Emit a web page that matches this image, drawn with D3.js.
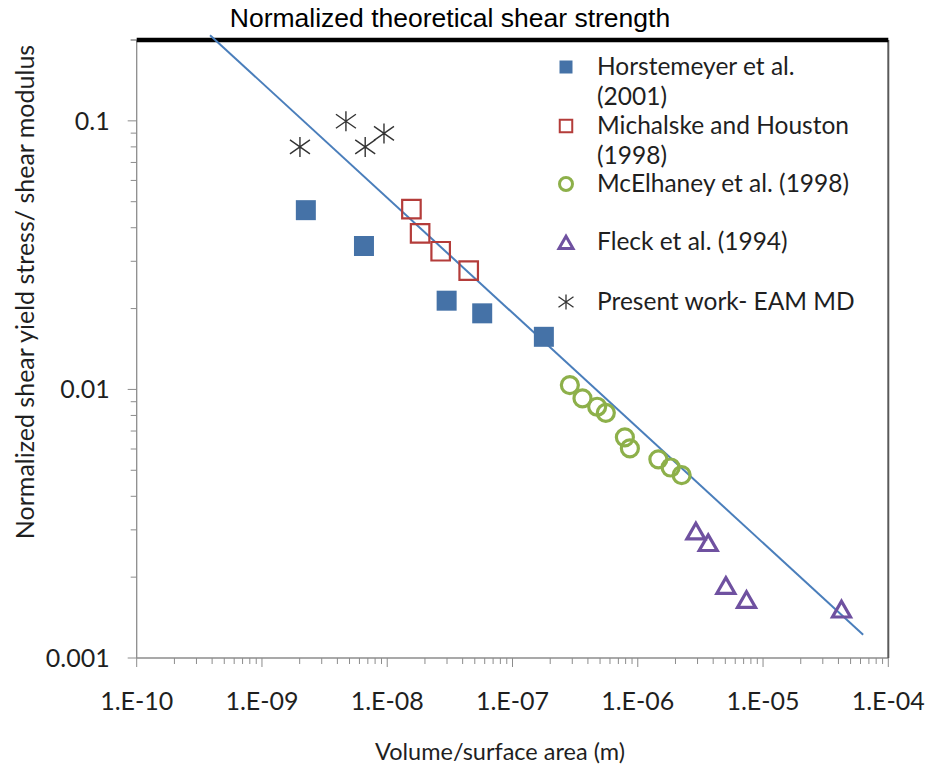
<!DOCTYPE html>
<html>
<head>
    <meta charset="utf-8">
    <script src="https://d3js.org/d3.v7.min.js"></script>
    <style>
        body { margin: 0; background: #fff; }
        svg { display: block; }
        text { font-family: Lato, "Open Sans", sans-serif; fill: #1f1f1f; }
    </style>
</head>
<body>
    <svg></svg>
    <script>
        // Datos
        const horstX = [2.24e-9, 6.52e-9, 2.98e-8, 5.73e-8, 1.78e-7];
        const horstY = [0.0465, 0.0342, 0.0214, 0.0192, 0.0157];

        const michX = [1.56e-8, 1.83e-8, 2.67e-8, 4.47e-8];
        const michY = [0.0469, 0.0381, 0.0327, 0.0277];

        const mcelX = [2.87e-7, 3.62e-7, 4.74e-7, 5.56e-7, 7.89e-7, 8.65e-7, 1.46e-6, 1.83e-6, 2.24e-6];
        const mcelY = [0.01038, 0.00926, 0.00862, 0.00818, 0.00663, 0.00603, 0.00549, 0.00512, 0.00480];

        const fleckX = [2.91e-6, 3.65e-6, 5.05e-6, 7.38e-6, 4.23e-5];
        const fleckY = [0.00295, 0.00267, 0.00185, 0.00164, 0.00151];

        const presentX = [2.01e-9, 4.68e-9, 6.67e-9, 9.42e-9];
        const presentY = [0.080, 0.0997, 0.080, 0.0898];

        const fitX = [3.85e-10, 6.3e-5];
        const fitY = [0.2085, 0.00122];

        const theoreticalY = 0.2;

        const xTicks = [1e-10, 1e-9, 1e-8, 1e-7, 1e-6, 1e-5, 1e-4];
        const xTickLabels = ["1.E-10", "1.E-09", "1.E-08", "1.E-07", "1.E-06", "1.E-05", "1.E-04"];
        const yTicks = [0.001, 0.01, 0.1];
        const yTickLabels = ["0.001", "0.01", "0.1"];

        const legendLabels = [
            ["Horstemeyer et al.", "(2001)"],
            ["Michalske and Houston", "(1998)"],
            ["McElhaney et al. (1998)"],
            ["Fleck et al. (1994)"],
            ["Present work- EAM MD"]
        ];

        // Configuración
        const width = 925, height = 770;
        const plot = { left: 136.7, right: 888.3, top: 40, bottom: 658 };

        const svg = d3.select("svg")
            .attr("width", width)
            .attr("height", height);

        const x = d3.scaleLog().domain([1e-10, 1e-4]).range([plot.left, plot.right]);
        const y = d3.scaleLog().domain([0.001, 0.2]).range([plot.bottom, plot.top]);

        const axisColor = "#8c8c8c";

        // Ticks menores
        const minorX = [];
        for (let e = -10; e < -4; e++) {
            for (let k = 2; k <= 9; k++) minorX.push(k * Math.pow(10, e));
        }
        const minorY = [];
        for (let e = -3; e < 0; e++) {
            for (let k = 2; k <= 9; k++) {
                const v = k * Math.pow(10, e);
                if (v <= 0.2) minorY.push(v);
            }
        }
        minorY.push(0.2);

        // Eje X
        const xAxis = svg.append("g").attr("transform", `translate(0,${plot.bottom})`);
        xAxis.append("line")
            .attr("x1", plot.left).attr("x2", plot.right)
            .attr("stroke", axisColor).attr("stroke-width", 1.3);
        xAxis.selectAll(".minor").data(minorX).join("line")
            .attr("class", "minor")
            .attr("x1", d => x(d)).attr("x2", d => x(d))
            .attr("y1", 0).attr("y2", 6)
            .attr("stroke", axisColor);
        xAxis.selectAll(".major").data(xTicks).join("line")
            .attr("class", "major")
            .attr("x1", d => x(d)).attr("x2", d => x(d))
            .attr("y1", 0).attr("y2", 9)
            .attr("stroke", axisColor);
        xAxis.selectAll("text").data(xTicks).join("text")
            .attr("x", d => x(d))
            .attr("y", 52)
            .attr("text-anchor", "middle")
            .style("font-size", "25px")
            .text((d, i) => xTickLabels[i]);

        // Eje Y
        const yAxis = svg.append("g").attr("transform", `translate(${plot.left},0)`);
        yAxis.append("line")
            .attr("y1", plot.top).attr("y2", plot.bottom)
            .attr("stroke", axisColor).attr("stroke-width", 1.3);
        yAxis.selectAll(".minor").data(minorY).join("line")
            .attr("class", "minor")
            .attr("y1", d => y(d)).attr("y2", d => y(d))
            .attr("x1", 0).attr("x2", -6)
            .attr("stroke", axisColor);
        yAxis.selectAll(".major").data(yTicks).join("line")
            .attr("class", "major")
            .attr("y1", d => y(d)).attr("y2", d => y(d))
            .attr("x1", 0).attr("x2", -9)
            .attr("stroke", axisColor);
        yAxis.selectAll("text").data(yTicks).join("text")
            .attr("x", -27)
            .attr("y", d => y(d))
            .attr("dy", "0.35em")
            .attr("text-anchor", "end")
            .style("font-size", "25px")
            .text((d, i) => yTickLabels[i]);

        // Borde derecho
        svg.append("line")
            .attr("x1", plot.right).attr("x2", plot.right)
            .attr("y1", plot.top).attr("y2", plot.bottom)
            .attr("stroke", "#5a5a5a").attr("stroke-width", 2);

        // Resistencia teórica
        svg.append("line")
            .attr("x1", plot.left).attr("x2", plot.right)
            .attr("y1", y(theoreticalY)).attr("y2", y(theoreticalY))
            .attr("stroke", "#000").attr("stroke-width", 4.5);
        svg.append("text")
            .attr("x", 450).attr("y", 27)
            .attr("text-anchor", "middle")
            .style("font-family", "'Liberation Sans', Arial, sans-serif")
            .style("font-size", "26.5px")
            .style("fill", "#000")
            .text("Normalized theoretical shear strength");

        // Ajuste
        svg.append("line")
            .attr("x1", x(fitX[0])).attr("y1", y(fitY[0]))
            .attr("x2", x(fitX[1])).attr("y2", y(fitY[1]))
            .attr("stroke", "#4a7ebb").attr("stroke-width", 2);

        // Marcadores
        const blue = "#4572a7", red = "#b43c3a", green = "#8db04a", purple = "#6f51a0", star = "#333";

        function squarePath(cx, cy, s) {
            return `M${cx - s / 2},${cy - s / 2}h${s}v${s}h${-s}Z`;
        }
        function triPath(cx, cy, w) {
            const h = w * 0.87;
            return `M${cx},${cy - h * 0.55}L${cx + w / 2},${cy + h * 0.45}L${cx - w / 2},${cy + h * 0.45}Z`;
        }
        function starPath(cx, cy, s) {
            const r = s / 2;
            return `M${cx},${cy - r}V${cy + r}M${cx - r},${cy - r * 0.7}L${cx + r},${cy + r * 0.7}M${cx - r},${cy + r * 0.7}L${cx + r},${cy - r * 0.7}`;
        }

        const marks = svg.append("g");

        marks.selectAll(".horst").data(horstX).join("path")
            .attr("class", "horst")
            .attr("d", (d, i) => squarePath(x(d), y(horstY[i]), 20))
            .attr("fill", blue);

        marks.selectAll(".mich").data(michX).join("path")
            .attr("class", "mich")
            .attr("d", (d, i) => squarePath(x(d), y(michY[i]), 18.5))
            .attr("fill", "none").attr("stroke", red).attr("stroke-width", 2.2);

        marks.selectAll(".mcel").data(mcelX).join("circle")
            .attr("class", "mcel")
            .attr("cx", d => x(d)).attr("cy", (d, i) => y(mcelY[i]))
            .attr("r", 8.5)
            .attr("fill", "none").attr("stroke", green).attr("stroke-width", 3.2);

        marks.selectAll(".fleck").data(fleckX).join("path")
            .attr("class", "fleck")
            .attr("d", (d, i) => triPath(x(d), y(fleckY[i]), 18))
            .attr("fill", "none").attr("stroke", purple).attr("stroke-width", 3.2);

        marks.selectAll(".present").data(presentX).join("path")
            .attr("class", "present")
            .attr("d", (d, i) => starPath(x(d), y(presentY[i]), 20))
            .attr("fill", "none").attr("stroke", star).attr("stroke-width", 1.4);

        // Leyenda
        const legendY = [67, 126, 184, 242, 302];
        const legendMarkX = 566, legendTextX = 597;
        const legend = svg.append("g");

        legend.append("path").attr("d", squarePath(legendMarkX, legendY[0], 13)).attr("fill", blue);
        legend.append("path").attr("d", squarePath(legendMarkX, legendY[1], 12.5))
            .attr("fill", "none").attr("stroke", red).attr("stroke-width", 2);
        legend.append("circle").attr("cx", legendMarkX).attr("cy", legendY[2]).attr("r", 6.5)
            .attr("fill", "none").attr("stroke", green).attr("stroke-width", 3);
        legend.append("path").attr("d", triPath(legendMarkX, legendY[3] + 1, 14))
            .attr("fill", "none").attr("stroke", purple).attr("stroke-width", 3);
        legend.append("path").attr("d", starPath(legendMarkX, legendY[4], 15))
            .attr("fill", "none").attr("stroke", star).attr("stroke-width", 1.3);

        legendLabels.forEach((lines, i) => {
            lines.forEach((t, j) => {
                legend.append("text")
                    .attr("x", legendTextX)
                    .attr("y", legendY[i] + 7.5 + j * 30)
                    .style("font-size", "24.5px")
                    .text(t);
            });
        });

        // Títulos de ejes
        svg.append("text")
            .attr("x", 500).attr("y", 760)
            .attr("text-anchor", "middle")
            .style("font-size", "23.5px")
            .text("Volume/surface area (m)");

        svg.append("text")
            .attr("transform", "translate(34,292) rotate(-90)")
            .attr("text-anchor", "middle")
            .style("font-size", "25px")
            .text("Normalized shear yield stress/ shear modulus");
    </script>
</body>
</html>
